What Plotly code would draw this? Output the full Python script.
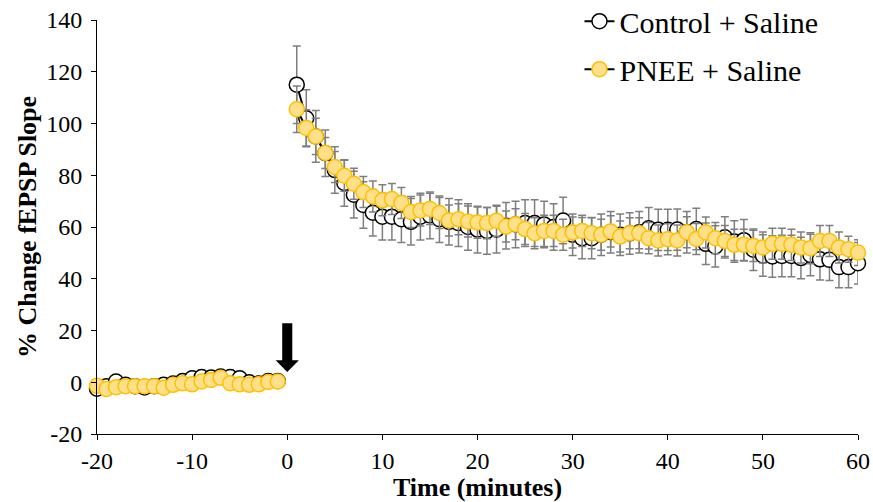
import plotly.graph_objects as go

# ---------------- data ----------------
baseline_t = list(range(-20, 0))
post_t = list(range(1, 61))

control_base = [-2.5, -1.5, 0.3, -1.0, -1.5, -2.0, -1.5, -1.0, -0.5, 0.5,
                1.5, 2.0, 1.8, 2.2, 2.0, 1.5, 0.0, -0.5, 0.5, 0.5]
pnee_base = [-1.4, -2.6, -1.9, -1.5, -1.5, -1.5, -1.5, -2.1, -1.0, -0.4,
             -0.8, 0.3, 0.9, 1.7, -0.4, -0.8, -1.0, -0.8, 0.1, 0.3]
control_base_err = [1.5] * 20
pnee_base_err = [1.2] * 20

control_post = [115, 102, 95, 88.5, 82, 77, 72.5, 68.5, 65.5, 64,
                64, 63, 62, 64, 64.5, 63, 62, 61.5, 60, 59,
                58.5, 59, 60.5, 61, 61.5, 61.5, 61, 60, 62.5, 57,
                55.7, 55.7, 57, 58, 57, 57.5, 58, 59.5, 58.9, 58.9,
                59, 58, 59.2, 53.5, 52.5, 56, 54.4, 54.9, 51.2, 49,
                48.6, 48.8, 48.8, 48, 49.2, 47.5, 47.3, 44.5, 44.5, 46]
control_post_err = [15, 11, 10, 9, 9, 9, 9, 9, 9, 9,
                    9, 9, 9, 9, 9, 9, 9, 9, 9, 9,
                    9, 9, 9, 9, 9, 9, 9, 9, 9, 8,
                    8, 8, 8, 8, 8, 8, 8, 8, 8, 8,
                    8, 8, 8, 8, 8, 8, 8, 8, 8, 8,
                    8, 8, 8, 8, 8, 8, 8, 8, 8, 8]
pnee_post = [105.5, 98.3, 95, 88.6, 83.2, 79.8, 76.7, 73.5, 71.8, 70.3,
             70.8, 69.3, 65.8, 66.4, 67, 65.4, 62.5, 63, 62.1, 61.7,
             61.5, 62.4, 60.2, 61.1, 59.2, 57.6, 58.5, 58.5, 57, 57.9,
             58.5, 57.6, 57, 58.3, 56.3, 57.6, 57.6, 55.7, 54.8, 55.3,
             54.8, 58, 55.4, 57.9, 55.7, 54.6, 53.1, 53.1, 52.7, 52.1,
             53.5, 53.5, 53.1, 52.1, 51.8, 54.6, 54.6, 52.1, 51.4, 50.1]
pnee_post_err = [9, 7, 7, 6, 6, 6, 6, 6, 6, 6,
                 6, 6, 6, 6, 6, 6, 6, 6, 6, 6,
                 6, 6, 6, 6, 6, 6, 6, 6, 6, 6,
                 6, 6, 6, 6, 6, 6, 6, 6, 6, 6,
                 6, 6, 6, 6, 6, 6, 6, 6, 6, 6,
                 6, 6, 6, 6, 6, 6, 6, 6, 5, 5]

x_ticks = [-20, -10, 0, 10, 20, 30, 40, 50, 60]
y_ticks = [-20, 0, 20, 40, 60, 80, 100, 120, 140]

# ---------------- figure ----------------
FONT = "Liberation Serif, Times New Roman, Times, serif"
x_all = baseline_t + [None] + post_t

def series(name, base, post, base_err, post_err, fill, edge, group):
    return go.Scatter(
        x=x_all, y=base + [None] + post,
        name=name, mode="lines+markers", legendgroup=group,
        connectgaps=False, cliponaxis=False,
        line=dict(color="black", width=2),
        marker=dict(size=15, color=fill, line=dict(color=edge, width=1.5)),
        error_y=dict(type="data", array=base_err + [0] + post_err,
                     color="#7F7F7F", thickness=1.5, width=4),
    )

fig = go.Figure()
fig.add_trace(series("Control + Saline", control_base, control_post,
                     control_base_err, control_post_err, "white", "black", "a"))
fig.add_trace(series("PNEE + Saline", pnee_base, pnee_post,
                     pnee_base_err, pnee_post_err, "#FFE08A", "#FFC000", "b"))

# stimulation arrow at t = 0
ax0, top, neck, tip, hw_shaft, hw_head = 0, 22.8, 8.5, 4.0, 0.53, 1.22
arrow_path = (f"M {ax0-hw_shaft},{top} L {ax0+hw_shaft},{top} L {ax0+hw_shaft},{neck} "
              f"L {ax0+hw_head},{neck} L {ax0},{tip} L {ax0-hw_head},{neck} "
              f"L {ax0-hw_shaft},{neck} Z")
fig.add_shape(type="path", path=arrow_path, xref="x", yref="y",
              fillcolor="black", line=dict(color="black", width=0))

axis_common = dict(showline=True, linecolor="black", linewidth=1, ticks="outside",
                   ticklen=5, tickcolor="black", showgrid=False, zeroline=False,
                   automargin=False,
                   tickfont=dict(family=FONT, size=24, color="black"))

fig.update_layout(
    width=873, height=502,
    margin=dict(l=97, r=15, t=20, b=68, autoexpand=False),
    paper_bgcolor="white", plot_bgcolor="white",
    font=dict(family=FONT, color="black"),
    showlegend=True,
    legend=dict(x=0.634, y=1.06, xref="paper", yref="paper",
                xanchor="left", yanchor="top",
                font=dict(family=FONT, size=30, color="black"),
                bgcolor="rgba(0,0,0,0)", tracegroupgap=6, traceorder="grouped"),
    xaxis=dict(range=[-20, 60], tickvals=x_ticks, ticktext=[str(v) for v in x_ticks],
               title=dict(text="Time (minutes)", standoff=3,
                          font=dict(family=FONT, size=26, color="black", weight="bold")),
               **axis_common),
    yaxis=dict(range=[-20, 140], tickvals=y_ticks, ticktext=[str(v) for v in y_ticks],
               ticklabelstandoff=4,
               title=dict(text="% Change fEPSP Slope", standoff=2,
                          font=dict(family=FONT, size=26, color="black", weight="bold")),
               **axis_common),
)

fig.write_html("out.html")
